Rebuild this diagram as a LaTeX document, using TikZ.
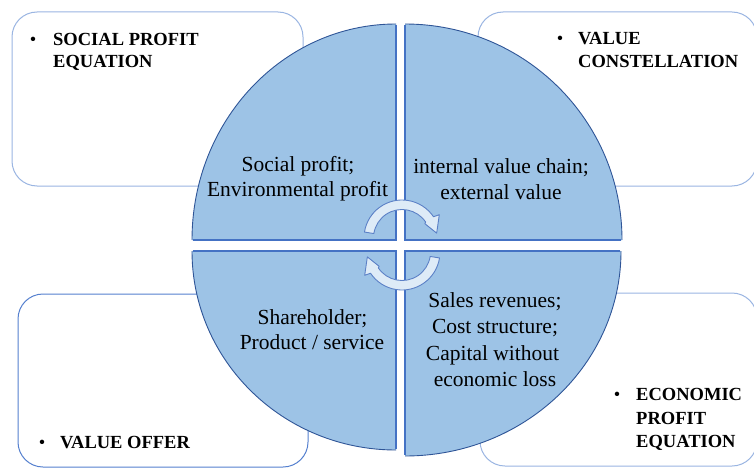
\documentclass[tikz,border=0pt]{standalone}
\usepackage{fontspec}
\setmainfont{Liberation Serif}
\definecolor{quadfill}{HTML}{9DC3E6}
\definecolor{rimblue}{HTML}{2F5597}
\definecolor{seamblue}{HTML}{4472C4}
\definecolor{panelsoft}{HTML}{9AB5E2}
\definecolor{panelstrong}{HTML}{5580CF}
\definecolor{arrowfill}{HTML}{DEEBF7}
\definecolor{arrowline}{HTML}{5B80C6}
\begin{document}
\begin{tikzpicture}[x=1pt,y=-1pt,
  quad/.style={fill=quadfill},
  rim/.style={draw=rimblue,line width=0.9pt},
  seam/.style={draw=seamblue,line width=1.8pt},
  panel/.style={fill=white,rounded corners=25pt,line width=1pt},
  cyc/.style={fill=arrowfill,draw=arrowline,line width=0.9pt,line join=round},
  body/.style={font=\fontsize{21.5}{25}\selectfont,inner sep=0pt,anchor=base},
  head/.style={font=\bfseries\fontsize{18.5}{22}\selectfont,inner sep=0pt,anchor=base west},
  dot/.style={font=\fontsize{18.5}{22}\selectfont,inner sep=0pt,anchor=base}]
\useasboundingbox (0,0) rectangle (754,468);
\clip (0,0) rectangle (754,468);

% corner panels
\draw[panel,draw=panelsoft] (12,12) rectangle (303,186);
\draw[panel,draw=panelsoft] (478,12) rectangle (757,186);
\draw[panel,draw=panelstrong] (18,294) rectangle (308,467);
\draw[panel,draw=panelsoft] (480,293) rectangle (757,466);

% four pie quarters
\coordinate (qtl) at (396,240);
\coordinate (qtr) at (405,240);
\coordinate (qbl) at (396,251);
\coordinate (qbr) at (405,251);

\fill[quad] (qtl) -- ++(-204,0) arc[start angle=180,end angle=270,x radius=204,y radius=216] -- cycle;
\fill[quad] (qtr) -- ++(0,-216) arc[start angle=270,end angle=360,x radius=217,y radius=216] -- cycle;
\fill[quad] (qbl) -- ++(-204,0) arc[start angle=180,end angle=90,x radius=204,y radius=199] -- cycle;
\fill[quad] (qbr) -- ++(216,0) arc[start angle=0,end angle=90,x radius=216,y radius=205] -- cycle;

\draw[rim] ([xshift=-204pt]qtl) arc[start angle=180,end angle=270,x radius=204,y radius=216];
\draw[rim] ([yshift=216pt]qtr) arc[start angle=270,end angle=360,x radius=217,y radius=216];
\draw[rim] ([xshift=-204pt]qbl) arc[start angle=180,end angle=90,x radius=204,y radius=199];
\draw[rim] ([xshift=216pt]qbr) arc[start angle=0,end angle=90,x radius=216,y radius=205];

\draw[seam] ([xshift=-203pt]qtl) -- (qtl) -- ([yshift=215pt]qtl);
\draw[seam] ([xshift=216pt]qtr) -- (qtr) -- ([yshift=215pt]qtr);
\draw[seam] ([xshift=-203pt]qbl) -- (qbl) -- ([yshift=-198pt]qbl);
\draw[seam] ([xshift=215pt]qbr) -- (qbr) -- ([yshift=-204pt]qbr);

% circular arrows in the middle
\coordinate (hubA) at (402,238);
\coordinate (hubB) at (402,252);
\draw[cyc] ([shift={(189:38)}]hubA) arc[start angle=189,end angle=326,radius=38]
  -- ([shift={(328:44)}]hubA) -- ([shift={(352:35)}]hubA) -- ([shift={(328:27)}]hubA)
  -- ([shift={(326:28.5)}]hubA) arc[start angle=326,end angle=189,radius=28.5] -- cycle;
\draw[cyc] ([shift={(9:38)}]hubB) arc[start angle=9,end angle=146,radius=38]
  -- ([shift={(148:44)}]hubB) -- ([shift={(172:35)}]hubB) -- ([shift={(148:27)}]hubB)
  -- ([shift={(146:28.5)}]hubB) arc[start angle=146,end angle=9,radius=28.5] -- cycle;

% quarter texts
\node[body] (s1) at (298,171) {Social profit;};
\node[body] (s2) at (297.5,196) {Environmental profit};
\node[body] (v1) at (501,173) {internal value chain;};
\node[body] (v2) at (501,199) {external value};
\node[body] (o1) at (312.5,324) {Shareholder;};
\node[body] (o2) at (312,349) {Product / service};
\node[body] (e1) at (495,307) {Sales revenues;};
\node[body] (e2) at (495,333) {Cost structure;};
\node[body] (e3) at (492.5,360) {Capital without};
\node[body] (e4) at (495,386) {economic loss};

% panel headings
\node[dot] (b1) at (33,46) {\textbullet};
\node[head] (h1a) at (53,46) {SOCIAL PROFIT};
\node[head] (h1b) at (53,68) {EQUATION};
\node[dot] (b2) at (560,45) {\textbullet};
\node[head] (h2a) at (578,45) {VALUE};
\node[head] (h2b) at (578,68) {CONSTELLATION};
\node[dot] (b3) at (42,448) {\textbullet};
\node[head] (h3a) at (60,448) {VALUE OFFER};
\node[dot] (b4) at (617,400) {\textbullet};
\node[head] (h4a) at (636,400) {ECONOMIC};
\node[head] (h4b) at (636,424) {PROFIT};
\node[head] (h4c) at (636,447) {EQUATION};
\end{tikzpicture}
\end{document}
